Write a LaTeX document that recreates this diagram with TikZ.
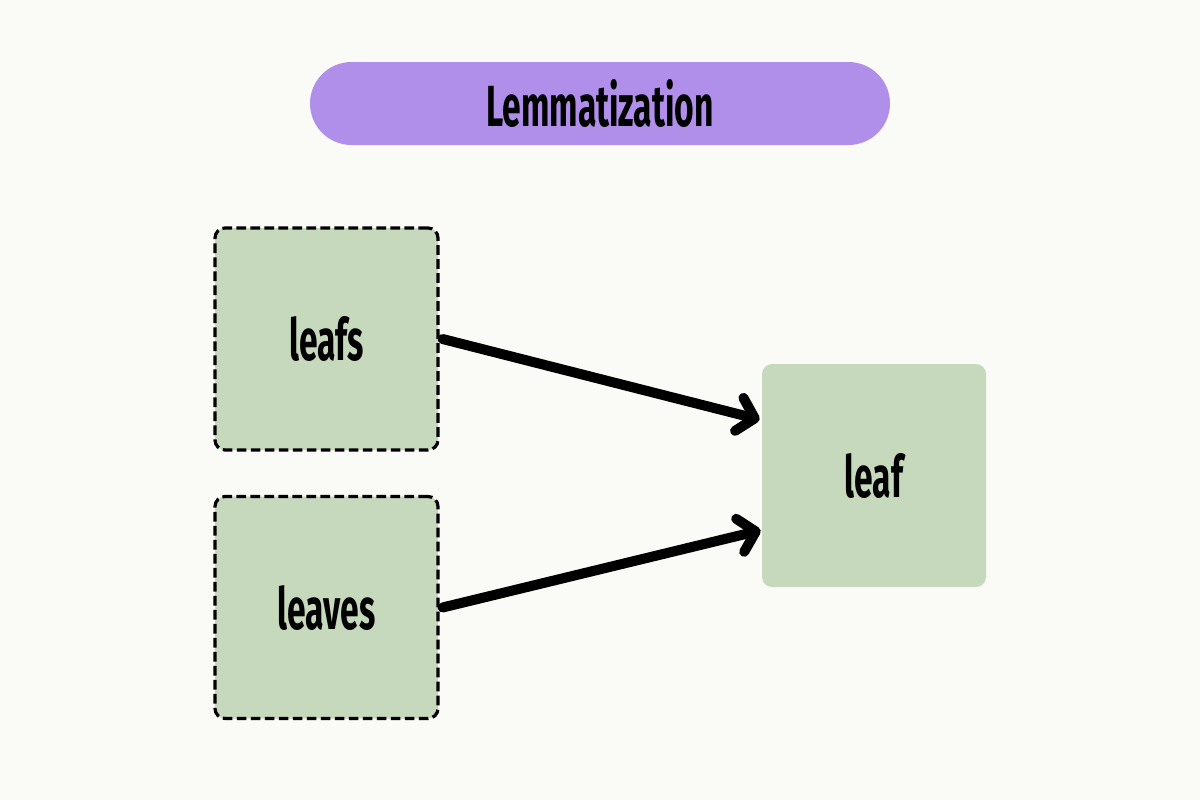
\documentclass[tikz,border=0pt]{standalone}
\usepackage{fontspec}
\newfontfamily\condfont{Fira Sans}[FakeStretch=0.58]
\usetikzlibrary{arrows.meta,calc}
\definecolor{bgc}{RGB}{250,251,246}
\definecolor{pillc}{RGB}{176,143,235}
\definecolor{boxc}{RGB}{198,217,188}
\tikzset{
  lbl/.style={font=\condfont\bfseries\fontsize{29pt}{32pt}\selectfont, text=black},
  pill/.style={lbl, fill=pillc, rounded corners=20.75pt, minimum width=290pt, minimum height=41.5pt, inner sep=0pt},
  dbox/.style={lbl, fill=boxc, draw=black, line width=1.6pt, dash pattern=on 4.8pt off 2.2pt, rounded corners=5pt, minimum width=111.5pt, minimum height=111pt, inner sep=0pt},
  sbox/.style={lbl, fill=boxc, rounded corners=5pt, minimum width=112pt, minimum height=111.5pt, inner sep=0pt},
  conn/.style={line width=5pt, line cap=round, -{Straight Barb[length=8pt,width=17pt,round]}}
}
\begin{document}
\begin{tikzpicture}[x=0.5pt,y=-0.5pt]
\fill[bgc] (0,0) rectangle (1200,800);
\useasboundingbox (0,0) rectangle (1200,800);
\node[pill] (title) at (600,103.5) {Lemmatization};
\node[dbox] (leafs) at (326.5,339) {leafs};
\node[dbox] (leaves) at (326.5,607.5) {leaves};
\node[sbox] (leaf) at (874,475.5) {leaf};
\draw[conn] ($(leafs.east)+(3,0)$) -- ($(leaf.north west)!0.25!(leaf.south west)+(-2,0)$);
\draw[conn] ($(leaves.east)+(3,0)$) -- ($(leaf.north west)!0.745!(leaf.south west)+(-1,0)$);
\end{tikzpicture}
\end{document}
